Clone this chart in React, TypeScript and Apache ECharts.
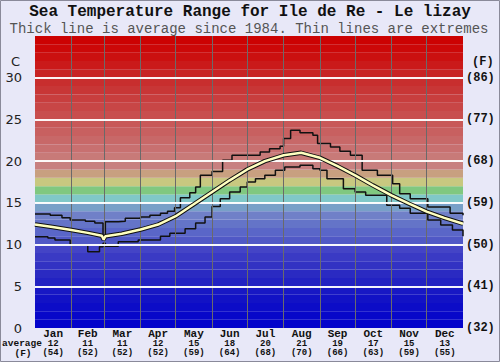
import React, { useEffect, useRef } from "react";
import * as echarts from "echarts";

const months = ["Jan", "Feb", "Mar", "Apr", "May", "Jun", "Jul", "Aug", "Sep", "Oct", "Nov", "Dec"];
const monthDays = [31, 28, 31, 30, 31, 30, 31, 31, 30, 31, 30, 31];
const monthAvgC = [12, 11, 11, 12, 15, 18, 20, 21, 19, 17, 15, 13];
const monthAvgF = [54, 52, 52, 52, 59, 64, 68, 70, 66, 63, 59, 55];
const tickC = [0, 5, 10, 15, 20, 25, 30];
const tickF = [32, 41, 50, 59, 68, 77, 86];

// average (day of year, °C)
const avgDays = [0, 15, 31, 45, 57, 58.5, 60, 74, 90, 105, 120, 135, 151, 166, 181, 196, 212, 227, 243, 258, 273, 288, 304, 319, 334, 349, 365];
const avgVals = [12.4, 12.1, 11.75, 11.4, 11.05, 10.6, 11.0, 11.3, 11.8, 12.4, 13.4, 14.8, 16.3, 17.7, 19.0, 20.0, 20.7, 21.0, 20.4, 19.4, 18.3, 17.1, 15.9, 14.9, 13.95, 13.2, 12.5];

// upper extreme
const maxDays = [0, 13, 23, 30, 43, 51, 58, 59, 60, 71, 77, 90, 98, 107, 113, 119, 124, 132, 137, 141, 151, 160, 168, 181, 192, 200, 209, 212, 218, 226, 237, 241, 252, 260, 269, 279, 292, 305, 311, 320, 335, 354, 365];
const maxVals = [13.65, 13.5, 13.2, 12.95, 12.8, 12.6, 10.7, 10.7, 12.75, 12.8, 13.15, 13.3, 13.5, 13.75, 14.0, 14.4, 15.6, 16.2, 16.9, 18.3, 18.75, 20.1, 20.7, 20.7, 21.1, 21.5, 21.8, 22.7, 23.7, 23.4, 23.1, 22.1, 21.7, 21.2, 20.7, 18.9, 18.3, 17.3, 16.1, 15.5, 14.5, 13.75, 13.5];

// lower extreme
const minDays = [0, 11, 17, 30, 44, 45, 53, 55, 58, 60, 71, 88, 107, 115, 128, 137, 145, 151, 158, 166, 175, 181, 188, 196, 205, 213, 226, 237, 243, 249, 263, 273, 282, 300, 311, 320, 335, 346, 356, 365];
const minVals = [10.95, 10.8, 10.55, 9.95, 9.95, 9.15, 9.15, 9.75, 10.15, 9.8, 10.35, 10.55, 11.0, 11.35, 11.9, 12.6, 13.3, 14.55, 15.5, 16.3, 16.9, 17.5, 17.9, 18.3, 18.9, 19.3, 19.5, 19.1, 18.9, 17.9, 16.7, 16.3, 15.9, 14.7, 14.35, 13.75, 12.95, 12.35, 11.75, 11.0];

// background band colours, one per degree from 0 to 35
const bandColors = [
  "#0303CB", "#0707C9", "#0C0CC7", "#1212C5", "#1818C4",
  "#2222C2", "#2A2AC2", "#3232C3", "#3A3AC4", "#4444C6",
  "#5058C6", "#5A66C8", "#6474C8", "#7080C8", "#78A0C8",
  "#80C8C8", "#80C880", "#C8C880", "#C8A080", "#C88080",
  "#C87A78", "#C87070", "#C86868", "#C86060", "#C85858",
  "#C84E4E", "#C84646", "#C83E3E", "#C83636", "#C82E2E",
  "#C82424", "#CA1A1A", "#CB1010", "#CC0808", "#CC0202",
];

const MONO = "'Liberation Mono', 'DejaVu Sans Mono', monospace";
const SANS = "'DejaVu Sans', Verdana, sans-serif";

export default function App() {
  const ref = useRef<HTMLDivElement>(null);
  useEffect(() => {
    document.body.style.margin = "0";
    const chart = echarts.init(ref.current!, null, { renderer: "svg" });

    const starts: number[] = [];
    let acc = 0;
    monthDays.forEach((d) => {
      starts.push(acc);
      acc += d;
    });
    const mids = monthDays.map((d, i) => starts[i] + d / 2);
    const bounds = starts.slice(1);

    const pairs = (xs: number[], ys: number[]) => xs.map((x, i) => [x, ys[i]]);

    const option: any = {
      animation: false,
      backgroundColor: "#e8e8f8",
      grid: { left: 35, right: 37, top: 36, bottom: 34 },
      xAxis: {
        type: "value",
        min: 0,
        max: 365,
        axisLine: { show: false },
        axisTick: { show: false },
        splitLine: { show: false },
        axisLabel: {
          customValues: mids,
          margin: 0,
          formatter: (v: number) => {
            const i = mids.findIndex((m) => Math.abs(m - v) < 0.01);
            if (i < 0) return "";
            return `{m|${months[i]}}\n{n|${monthAvgC[i]}}\n{n|(${monthAvgF[i]})}`;
          },
          rich: {
            m: { fontFamily: MONO, fontWeight: "bold", fontSize: 11, lineHeight: 11, color: "#111" },
            n: { fontFamily: MONO, fontWeight: "bold", fontSize: 9, lineHeight: 9.5, color: "#111" },
          },
        },
      },
      yAxis: [
        {
          type: "value",
          min: 0,
          max: 35,
          interval: 5,
          axisLine: { show: false },
          axisTick: { show: false },
          splitLine: { show: false },
          axisLabel: {
            margin: 13,
            fontFamily: SANS,
            fontSize: 13,
            color: "#222",
            formatter: (v: number) => {
              const i = tickC.indexOf(v);
              return i < 0 ? "" : String(tickC[i]);
            },
          },
        },
        {
          type: "value",
          min: 0,
          max: 35,
          interval: 5,
          position: "right",
          axisLine: { show: false },
          axisTick: { show: false },
          splitLine: { show: false },
          axisLabel: {
            margin: 3,
            fontFamily: MONO,
            fontWeight: "bold",
            fontSize: 12,
            color: "#111",
            formatter: (v: number) => {
              const i = tickC.indexOf(v);
              return i < 0 ? "" : `(${tickF[i]})`;
            },
          },
        },
      ],
      series: [
        {
          type: "line",
          name: "bands",
          data: [],
          z: 1,
          silent: true,
          markArea: {
            silent: true,
            data: bandColors.map((c, i) => [
              { yAxis: i, itemStyle: { color: c } },
              { yAxis: i + 1 },
            ]),
          },
        },
        {
          type: "line",
          name: "monthLines",
          data: [],
          z: 2,
          silent: true,
          markLine: {
            silent: true,
            symbol: "none",
            label: { show: false },
            lineStyle: { color: "#6a6a6a", width: 1, type: "solid" },
            data: bounds.map((b) => ({ xAxis: b })),
          },
        },
        {
          type: "line",
          name: "grid",
          data: [],
          z: 3,
          silent: true,
          markLine: {
            silent: true,
            symbol: "none",
            label: { show: false },
            lineStyle: { color: "#ffffff", width: 2, type: "solid", opacity: 0.95 },
            data: tickC.filter((t) => t > 0).map((t) => ({ yAxis: t })),
          },
        },
        {
          type: "line",
          name: "max",
          data: pairs(maxDays, maxVals),
          step: "end",
          showSymbol: false,
          z: 4,
          lineStyle: { color: "#111", width: 1.5 },
        },
        {
          type: "line",
          name: "min",
          data: pairs(minDays, minVals),
          step: "end",
          showSymbol: false,
          z: 4,
          lineStyle: { color: "#111", width: 1.5 },
        },
        {
          type: "line",
          name: "avgOutline",
          data: pairs(avgDays, avgVals),
          showSymbol: false,
          z: 5,
          lineStyle: { color: "#111", width: 4.5 },
        },
        {
          type: "line",
          name: "avg",
          data: pairs(avgDays, avgVals),
          showSymbol: false,
          z: 6,
          lineStyle: { color: "#ffffc0", width: 2.5 },
        },
      ],
      graphic: [
        {
          type: "rect",
          shape: { x: 0.5, y: 0.5, width: 499, height: 361 },
          style: { fill: "none", stroke: "#8a8a9a", lineWidth: 1 },
          z: 100,
        },
        {
          type: "text",
          x: 250,
          y: 12,
          style: {
            text: "Sea Temperature Range for Ile de Re - Le lizay",
            fontFamily: MONO,
            fontWeight: "bold",
            fontSize: 16,
            fill: "#111",
            textAlign: "center",
            textVerticalAlign: "middle",
          },
        },
        {
          type: "text",
          x: 249,
          y: 28.5,
          style: {
            text: "Thick line is average since 1984. Thin lines are extremes",
            fontFamily: MONO,
            fontSize: 14,
            fill: "#555",
            textAlign: "center",
            textVerticalAlign: "middle",
          },
        },
        {
          type: "text",
          x: 20,
          y: 61,
          style: { text: "C", fontFamily: SANS, fontSize: 13, fill: "#222", textAlign: "right", textVerticalAlign: "middle" },
        },
        {
          type: "text",
          x: 472,
          y: 62,
          style: { text: "(F)", fontFamily: MONO, fontWeight: "bold", fontSize: 12, fill: "#111", textAlign: "left", textVerticalAlign: "middle" },
        },
        {
          type: "text",
          x: 22,
          y: 343.5,
          style: { text: "average", fontFamily: MONO, fontWeight: "bold", fontSize: 9.5, fill: "#111", textAlign: "center", textVerticalAlign: "middle" },
        },
        {
          type: "text",
          x: 23,
          y: 353,
          style: { text: "(F)", fontFamily: MONO, fontWeight: "bold", fontSize: 9.5, fill: "#111", textAlign: "center", textVerticalAlign: "middle" },
        },
      ],
    };
    chart.setOption(option);
    return () => chart.dispose();
  }, []);
  return <div ref={ref} style={{ width: 500, height: 362 }} />;
}
